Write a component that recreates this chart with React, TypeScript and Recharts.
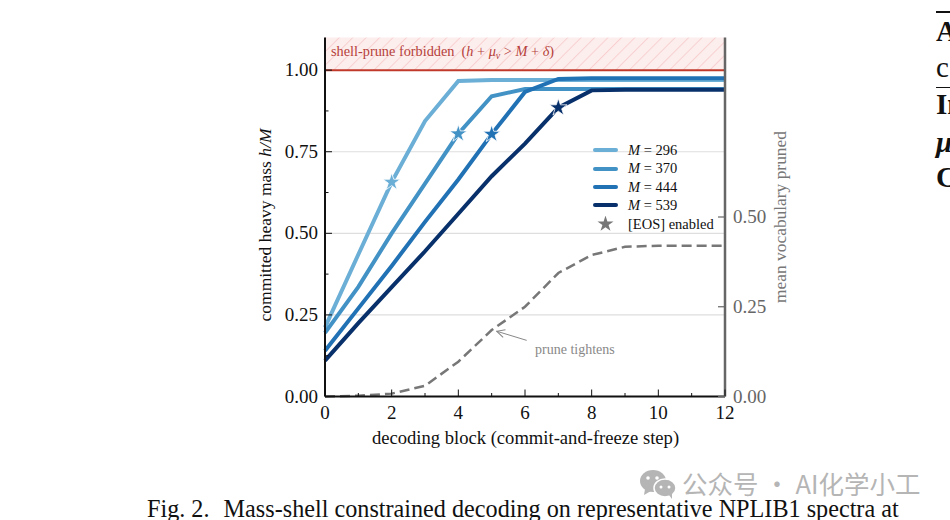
import { ComposedChart, Line, XAxis, YAxis, CartesianGrid, ReferenceArea, ReferenceLine, Symbols } from "recharts";

const BLOCKS = [0, 1, 2, 3, 4, 5, 6, 7, 8, 9, 10, 11, 12];
const M296 = [0.212, 0.435, 0.657, 0.844, 0.967, 0.97, 0.97, 0.97, 0.97, 0.97, 0.97, 0.97, 0.97];
const M370 = [0.195, 0.336, 0.5, 0.652, 0.805, 0.92, 0.942, 0.942, 0.942, 0.942, 0.942, 0.942, 0.942];
const M444 = [0.14, 0.27, 0.4, 0.535, 0.665, 0.804, 0.933, 0.973, 0.975, 0.975, 0.975, 0.975, 0.975];
const M539 = [0.11, 0.225, 0.335, 0.445, 0.56, 0.675, 0.775, 0.885, 0.938, 0.94, 0.94, 0.94, 0.94];
const PRUNED = [0, 0.002, 0.008, 0.03, 0.097, 0.185, 0.25, 0.344, 0.394, 0.417, 0.42, 0.42, 0.42];

const SERIES = [
  { key: "m296", label: "296", color: "#6baed6", star: 2 },
  { key: "m370", label: "370", color: "#4292c6", star: 4 },
  { key: "m444", label: "444", color: "#2171b5", star: 5 },
  { key: "m539", label: "539", color: "#08306b", star: 7 },
];

const LEFT_TICKS = [0, 0.125, 0.25, 0.375, 0.5, 0.625, 0.75, 0.875, 1];
const LEFT_MAJOR = [0, 0.25, 0.5, 0.75, 1];
const RIGHT_TICKS = [0, 0.25, 0.5];
const GRID_VALUES = [0.25, 0.5, 0.75];

const data = BLOCKS.map((b, i) => ({
  block: b,
  m296: M296[i],
  m370: M370[i],
  m444: M444[i],
  m539: M539[i],
  pruned: PRUNED[i],
}));

const SERIF = "'Liberation Serif', serif";

function LeftTick({ x, y, payload }: any) {
  const major = LEFT_MAJOR.includes(payload.value);
  return (
    <g>
      <line x1={x} x2={x + (major ? 7 : 3.5)} y1={y} y2={y} stroke="#111" strokeWidth={1} />
      {major && (
        <text x={x - 7} y={y + 6} textAnchor="end" fontSize={19} fontFamily={SERIF} fill="#111">
          {payload.value.toFixed(2)}
        </text>
      )}
    </g>
  );
}

function BottomTick({ x, y, payload }: any) {
  const major = payload.value % 2 === 0;
  return (
    <g>
      <line x1={x} x2={x} y1={y} y2={y - (major ? 7 : 3.5)} stroke="#111" strokeWidth={1} />
      {major && (
        <text x={x} y={y + 22} textAnchor="middle" fontSize={19} fontFamily={SERIF} fill="#111">
          {payload.value}
        </text>
      )}
    </g>
  );
}

function RightTick({ x, y, payload }: any) {
  return (
    <g>
      <line x1={x} x2={x - 7} y1={y} y2={y} stroke="#666" strokeWidth={1.2} />
      <text x={x + 8} y={y + 6} textAnchor="start" fontSize={19} fontFamily={SERIF} fill="#666">
        {payload.value.toFixed(2)}
      </text>
    </g>
  );
}

function starDot(starIndex: number, color: string) {
  return (props: any) => {
    if (props.index !== starIndex) return <g key={props.index} />;
    return <Symbols key={props.index} cx={props.cx} cy={props.cy} type="star" size={95} fill={color} stroke="#fff" strokeWidth={0.8} />;
  };
}

function arrowShape(props: any) {
  return <line x1={props.x1} y1={props.y1} x2={props.x2} y2={props.y2} stroke="#888" strokeWidth={1} markerEnd="url(#open-arrow)" />;
}

function ForbiddenLabel({ viewBox }: any) {
  return (
    <text x={viewBox.x + 6} y={viewBox.y + 18.5} fontSize={14.3} fontFamily={SERIF} fill="#b5413a">
      shell-prune forbidden
      <tspan dx={7}>(</tspan>
      <tspan fontStyle="italic">h</tspan>
      <tspan> + </tspan>
      <tspan fontStyle="italic">μ</tspan>
      <tspan fontSize={10} dy={3} fontStyle="italic">v</tspan>
      <tspan dy={-3}> &gt; </tspan>
      <tspan fontStyle="italic">M</tspan>
      <tspan> + </tspan>
      <tspan fontStyle="italic">δ</tspan>
      <tspan>)</tspan>
    </text>
  );
}

function LegendBox() {
  return (
    <div style={{ position: "absolute", left: 593, top: 141, fontSize: 14.5, color: "#111", lineHeight: "18.4px" }}>
      {SERIES.map((s) => (
        <div key={s.key} style={{ display: "flex", alignItems: "center", height: 18.4 }}>
          <span style={{ width: 25, height: 4, borderRadius: 2, background: s.color, marginRight: 10 }} />
          <span>
            <i>M</i> = {s.label}
          </span>
        </div>
      ))}
      <div style={{ display: "flex", alignItems: "center", height: 18.4 }}>
        <svg width={25} height={16} style={{ marginRight: 10 }}>
          <Symbols cx={12.5} cy={8} type="star" size={80} fill="#777" />
        </svg>
        <span>[EOS] enabled</span>
      </div>
    </div>
  );
}

export default function App() {
  return (
    <div style={{ position: "absolute", left: 0, top: 0, width: 950, height: 520, overflow: "hidden", background: "#fff", fontFamily: SERIF }}>
      <ComposedChart width={950} height={520} data={data} margin={{ top: 37.5, right: 0, bottom: 0, left: 0 }}>
        <defs>
          <pattern id="hatch" patternUnits="userSpaceOnUse" width={9.5} height={9.5} patternTransform="rotate(45)">
            <rect width={9.5} height={9.5} fill="#fdeeee" />
            <line x1={0} x2={0} y1={0} y2={9.5} stroke="#f8d0d0" strokeWidth={2} />
          </pattern>
          <marker id="open-arrow" markerWidth={10} markerHeight={10} refX={9} refY={5} orient="auto" markerUnits="userSpaceOnUse">
            <path d="M1,1 L9,5 L1,9" fill="none" stroke="#888" strokeWidth={1} />
          </marker>
        </defs>
        <CartesianGrid yAxisId="left" vertical={false} horizontalValues={GRID_VALUES} stroke="#dedede" strokeWidth={1.2} />
        <XAxis
          dataKey="block"
          type="number"
          domain={[0, 12]}
          ticks={BLOCKS}
          interval={0}
          height={123.5}
          tickSize={0}
          tickMargin={0}
          tickLine={false}
          axisLine={{ stroke: "#111", strokeWidth: 2 }}
          tick={<BottomTick />}
        />
        <YAxis
          yAxisId="left"
          domain={[0, 1.1]}
          ticks={LEFT_TICKS}
          interval={0}
          width={325}
          tickSize={0}
          tickMargin={0}
          tickLine={false}
          axisLine={{ stroke: "#111", strokeWidth: 2 }}
          tick={<LeftTick />}
        />
        <YAxis
          yAxisId="right"
          orientation="right"
          domain={[0, 1]}
          ticks={RIGHT_TICKS}
          interval={0}
          width={225}
          tickSize={0}
          tickMargin={0}
          tickLine={false}
          axisLine={{ stroke: "#666", strokeWidth: 2.5 }}
          tick={<RightTick />}
        />
        <ReferenceArea
          yAxisId="left"
          x1={0}
          x2={12}
          y1={1}
          y2={1.1}
          fill="url(#hatch)"
          fillOpacity={1}
          stroke="none"
          ifOverflow="visible"
          label={<ForbiddenLabel />}
        />
        <ReferenceLine yAxisId="left" y={1} stroke="#c0392b" strokeWidth={2} />
        <Line
          yAxisId="right"
          dataKey="pruned"
          stroke="#777"
          strokeWidth={2.5}
          strokeDasharray="10 5"
          dot={false}
          isAnimationActive={false}
        />
        {SERIES.map((s) => (
          <Line
            key={s.key}
            yAxisId="left"
            dataKey={s.key}
            stroke={s.color}
            strokeWidth={4}
            dot={starDot(s.star, s.color)}
            activeDot={false}
            isAnimationActive={false}
          />
        ))}
        <ReferenceLine
          yAxisId="left"
          segment={[{ x: 6.05, y: 0.172 }, { x: 5.15, y: 0.2 }]}
          shape={arrowShape}
        />
        <text x={535} y={354} fontSize={14} fontFamily={SERIF} fill="#888">prune tightens</text>
        <text x={525.5} y={444} textAnchor="middle" fontSize={18.6} fontFamily={SERIF} fill="#111">
          decoding block (commit-and-freeze step)
        </text>
        <text transform="translate(271,225) rotate(-90)" textAnchor="middle" fontSize={17.5} fontFamily={SERIF} fill="#111">
          committed heavy mass <tspan fontStyle="italic">h/M</tspan>
        </text>
        <text transform="translate(786,217) rotate(-90)" textAnchor="middle" fontSize={17.4} fontFamily={SERIF} fill="#777">
          mean vocabulary pruned
        </text>
      </ComposedChart>

      <LegendBox />

      <div style={{ position: "absolute", left: 147, top: 495, fontSize: 24.2, whiteSpace: "pre", color: "#111" }}>
        Fig. 2.  <span style={{ marginLeft: 2 }}>Mass-shell constrained decoding on representative NPLIB1 spectra at</span>
      </div>

      <svg width={38} height={32} style={{ position: "absolute", left: 639, top: 468 }}>
        <ellipse cx={14} cy={13} rx={13} ry={11} fill="#b5b5b5" />
        <path d="M6,21 L5,27 L12,23 Z" fill="#b5b5b5" />
        <ellipse cx={26} cy={20} rx={11} ry={9} fill="#b5b5b5" stroke="#fff" strokeWidth={1.5} />
        <path d="M30,27 L33,31 L33,25 Z" fill="#b5b5b5" />
        <circle cx={9} cy={10} r={1.8} fill="#fff" />
        <circle cx={18} cy={10} r={1.8} fill="#fff" />
        <circle cx={22} cy={19} r={1.5} fill="#fff" />
        <circle cx={30} cy={19} r={1.5} fill="#fff" />
      </svg>
      <div style={{ position: "absolute", left: 682, top: 464, fontSize: 25.5, whiteSpace: "pre", color: "#b5b5b5", fontFamily: "'Noto Sans CJK SC', sans-serif" }}>
        公众号 · AI化学小工
      </div>

      <div style={{ position: "absolute", left: 936, top: 11, width: 14, height: 2, background: "#111" }} />
      <div style={{ position: "absolute", left: 936, top: 15, fontSize: 29, fontWeight: 700, color: "#111" }}>A</div>
      <div style={{ position: "absolute", left: 936, top: 51, fontSize: 29, color: "#111" }}>c</div>
      <div style={{ position: "absolute", left: 936, top: 87, width: 14, height: 1, background: "#111" }} />
      <div style={{ position: "absolute", left: 936, top: 88, fontSize: 29, fontWeight: 700, color: "#111" }}>In</div>
      <div style={{ position: "absolute", left: 936, top: 126, fontSize: 29, fontWeight: 700, fontStyle: "italic", color: "#111" }}>μ</div>
      <div style={{ position: "absolute", left: 936, top: 161, fontSize: 29, fontWeight: 700, color: "#111" }}>C</div>
    </div>
  );
}
